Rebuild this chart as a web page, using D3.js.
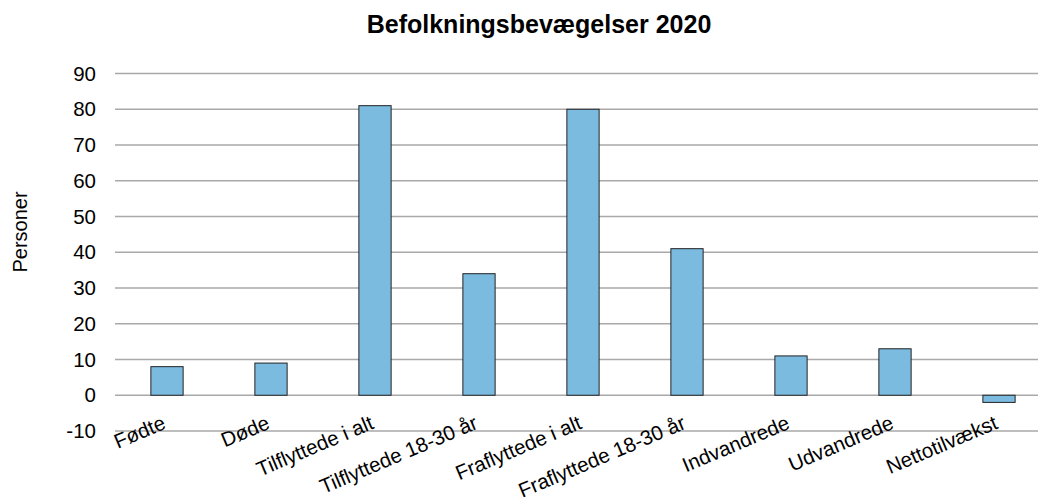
<!DOCTYPE html>
<html>
<meta charset="utf-8">
<head>
<style>
body { margin:0; padding:0; background:#fff; }
svg { display:block; font-family: "Liberation Sans", Arial, sans-serif; }
.grid line { stroke:#a9a9a9; stroke-width:1.6; }
.bar { fill:#7cbbe0; stroke:#222; stroke-width:1; }
</style>
</head>
<body>
<svg></svg>
<script src="https://d3js.org/d3.v7.min.js"></script>
<script>

var categories = ["Fødte", "Døde", "Tilflyttede i alt", "Tilflyttede 18-30 år",
  "Fraflyttede i alt", "Fraflyttede 18-30 år", "Indvandrede", "Udvandrede", "Nettotilvækst"];
var values = [8, 9, 81, 34, 80, 41, 11, 13, -2];
var yTicks = [-10, 0, 10, 20, 30, 40, 50, 60, 70, 80, 90];

var width = 1038, height = 502;
var svg = d3.select("svg").attr("width", width).attr("height", height);

var x = d3.scaleBand().domain(categories).range([115, 1051]).paddingInner(0.69).paddingOuter(0.345);
var y = d3.scaleLinear().domain([-10, 90]).range([431, 73.5]);

// gridlines
svg.append("g").attr("class", "grid")
  .selectAll("line").data(yTicks).enter().append("line")
    .attr("x1", 115).attr("x2", 1051)
    .attr("y1", function(d) { return y(d); })
    .attr("y2", function(d) { return y(d); });

// y tick labels
svg.append("g").selectAll("text").data(yTicks).enter().append("text")
  .attr("x", 96)
  .attr("y", function(d) { return y(d); })
  .attr("dy", "0.35em")
  .attr("text-anchor", "end")
  .style("font-size", "20.5px")
  .text(function(d) { return d; });

// bars
svg.append("g").selectAll("rect").data(values).enter().append("rect")
  .attr("class", "bar")
  .attr("x", function(d, i) { return x(categories[i]); })
  .attr("width", x.bandwidth())
  .attr("y", function(d) { return y(Math.max(0, d)); })
  .attr("height", function(d) { return Math.abs(y(d) - y(0)); });

// category labels (baseline end sits under the bar centre)
svg.append("g").selectAll("text").data(categories).enter().append("text")
  .attr("transform", function(d) {
    return "translate(" + (x(d) + x.bandwidth() / 2) + ",428) rotate(-23)";
  })
  .attr("text-anchor", "end")
  .style("font-size", "20.5px")
  .text(function(d) { return d; });

// axis title
svg.append("text")
  .attr("transform", "translate(27,232) rotate(-90)")
  .attr("text-anchor", "middle")
  .style("font-size", "20px")
  .text("Personer");

// title
svg.append("text")
  .attr("x", 539).attr("y", 33)
  .attr("text-anchor", "middle")
  .style("font-size", "25px")
  .style("font-weight", "bold")
  .text("Befolkningsbevægelser 2020");

</script>
</body>
</html>
